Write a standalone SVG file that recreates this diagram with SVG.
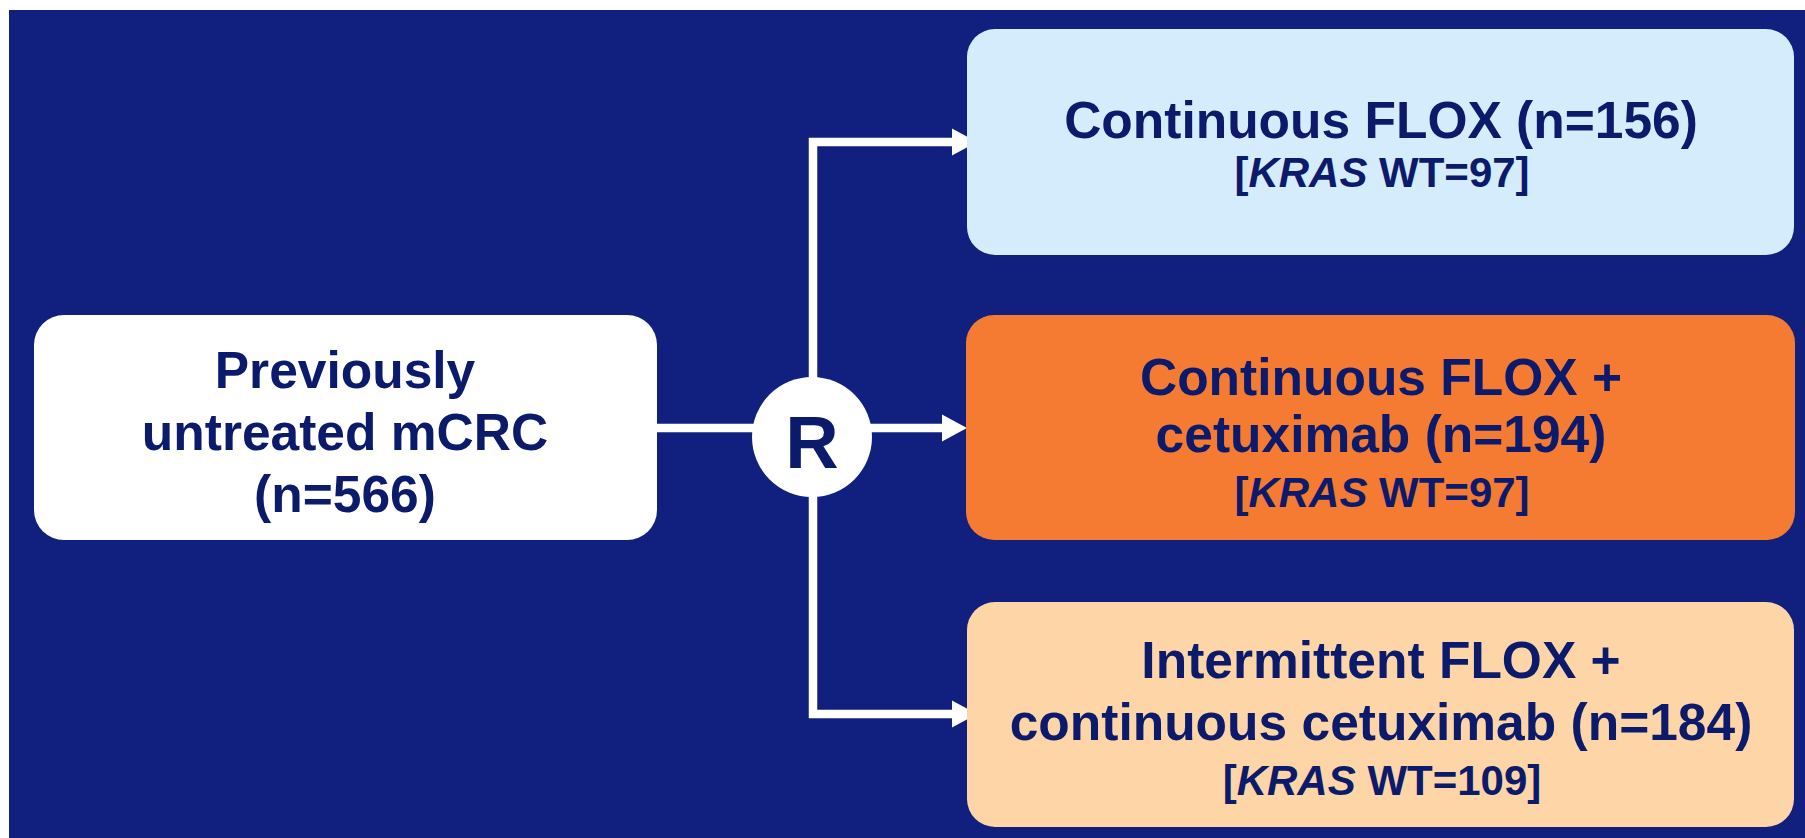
<svg xmlns="http://www.w3.org/2000/svg" width="1805" height="838" viewBox="0 0 1805 838">
<style>
.box{stroke:none}
.t{font-family:"Liberation Sans",Arial,sans-serif;font-weight:bold;fill:#0c1a6b;text-anchor:middle}
.big{font-size:51.5px}
.small{font-size:42px}
.conn{fill:none;stroke:#ffffff;stroke-width:8.5;stroke-linejoin:miter;stroke-linecap:butt}
</style>
<defs>
<marker id="arr" markerUnits="userSpaceOnUse" markerWidth="25" markerHeight="28" refX="0" refY="13.5" orient="auto" overflow="visible">
<path d="M0,0 L25,13.5 L0,27 Z" fill="#ffffff"/>
</marker>
</defs>
<rect x="0" y="0" width="1805" height="838" fill="#ffffff"/>
<rect x="9" y="10" width="1796" height="828" fill="#11207f"/>
<g id="connectors">
<path class="conn" d="M656,428 H770"/>
<path class="conn" d="M813,390 V142 H952" marker-end="url(#arr)"/>
<path class="conn" d="M860,428 H942" marker-end="url(#arr)"/>
<path class="conn" d="M813,480 V714 H952" marker-end="url(#arr)"/>
</g>
<g id="start">
<rect class="box" x="34" y="315" width="623" height="225" rx="30" fill="#ffffff"/>
<text class="t big" x="345" y="388">Previously</text>
<text class="t big" x="345" y="450">untreated mCRC</text>
<text class="t big" x="345" y="512">(n=566)</text>
</g>
<g id="randomize">
<circle cx="812" cy="437" r="60" fill="#ffffff"/>
<text class="t" x="812" y="468" font-size="74">R</text>
</g>
<g id="arm1">
<rect class="box" x="967" y="29" width="827" height="226" rx="28" fill="#d5ecfc"/>
<text class="t big" x="1381" y="138">Continuous FLOX (n=156)</text>
<text class="t small" x="1382" y="187">[<tspan font-style="italic">KRAS</tspan> WT=97]</text>
</g>
<g id="arm2">
<rect class="box" x="966" y="315" width="829" height="225" rx="28" fill="#f47b31"/>
<text class="t big" x="1381" y="395">Continuous FLOX +</text>
<text class="t big" x="1381" y="452">cetuximab (n=194)</text>
<text class="t small" x="1382" y="507">[<tspan font-style="italic">KRAS</tspan> WT=97]</text>
</g>
<g id="arm3">
<rect class="box" x="967" y="602" width="827" height="225" rx="28" fill="#fdd5a6"/>
<text class="t big" x="1381" y="678">Intermittent FLOX +</text>
<text class="t big" x="1381" y="740">continuous cetuximab (n=184)</text>
<text class="t small" x="1382" y="795">[<tspan font-style="italic">KRAS</tspan> WT=109]</text>
</g>
</svg>
